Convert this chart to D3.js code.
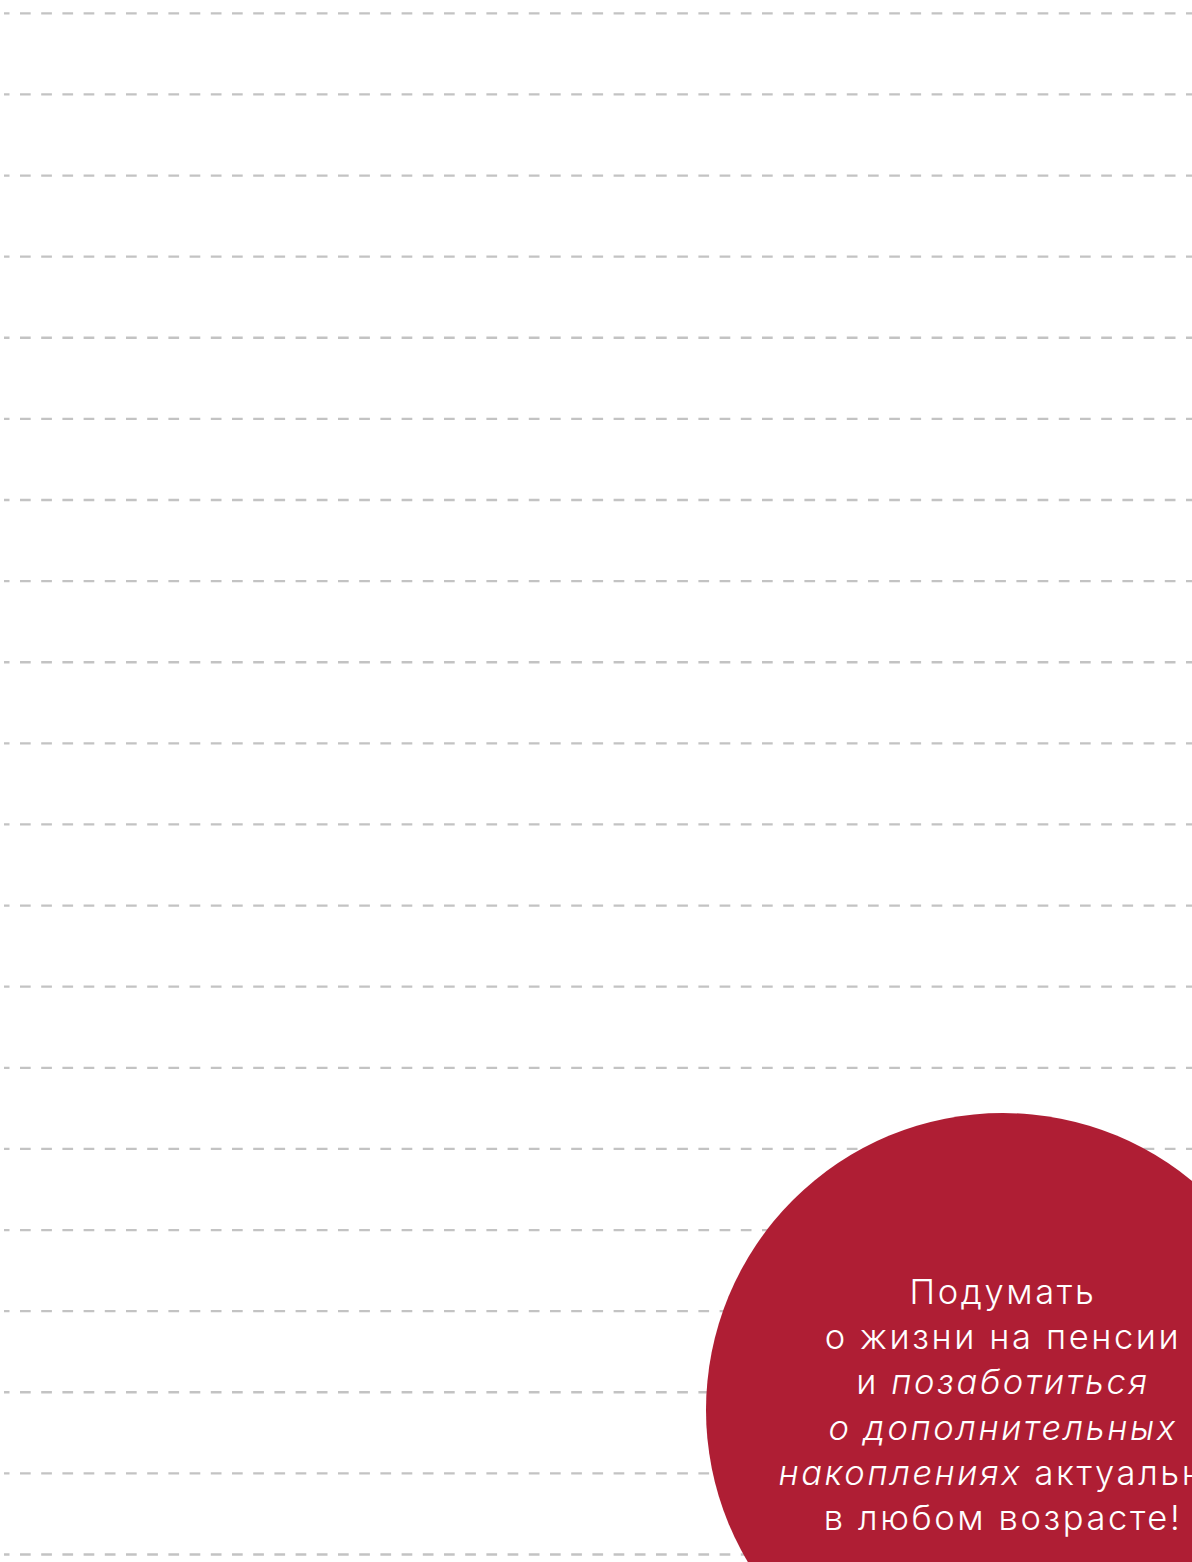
<!DOCTYPE html>
<html><head><meta charset="utf-8">
<script src="https://cdn.jsdelivr.net/npm/d3@7"></script>
<style>html,body{margin:0;padding:0;background:#fff;overflow:hidden}</style>
</head><body>
<script>
const ruleIndex = d3.range(20);
const textLines = [
  [{t:"Подумать", i:false}],
  [{t:"о жизни на пенсии", i:false}],
  [{t:"и ", i:false},{t:"позаботиться", i:true}],
  [{t:"о дополнительных", i:true}],
  [{t:"накоплениях", i:true},{t:" актуально", i:false}],
  [{t:"в любом возрасте!", i:false}]
];
const W = 1192, H = 1562;
const svg = d3.select("body").append("svg").attr("width", W).attr("height", H);
const y = d3.scaleLinear().domain([0, 19]).range([13.3, 1554.5]);
svg.selectAll("line.rule").data(ruleIndex).join("line")
  .attr("class","rule")
  .attr("x1", 4).attr("x2", W)
  .attr("y1", d => y(d)).attr("y2", d => y(d))
  .attr("stroke", "#c3c3c3").attr("stroke-width", 2.3)
  .attr("stroke-dasharray", "10.7 10.5").attr("stroke-dashoffset", 5.2);
const cx = 1003, cy = 1410, r = 297;
svg.append("circle").attr("cx", cx).attr("cy", cy).attr("r", r).attr("fill", "#af1e34");
const ly = d3.scaleLinear().domain([0, 5]).range([1304, 1530]);
const txt = svg.append("g").attr("font-family", "Inter, sans-serif").attr("font-weight", 300)
  .attr("font-size", 34.5).attr("letter-spacing", 2.6).attr("fill", "#fff").attr("text-anchor", "middle");
textLines.forEach((parts, k) => {
  const t = txt.append("text").attr("x", cx).attr("y", ly(k));
  parts.forEach(p => t.append("tspan").text(p.t).attr("font-style", p.i ? "italic" : "normal"));
});
</script>
</body></html>
